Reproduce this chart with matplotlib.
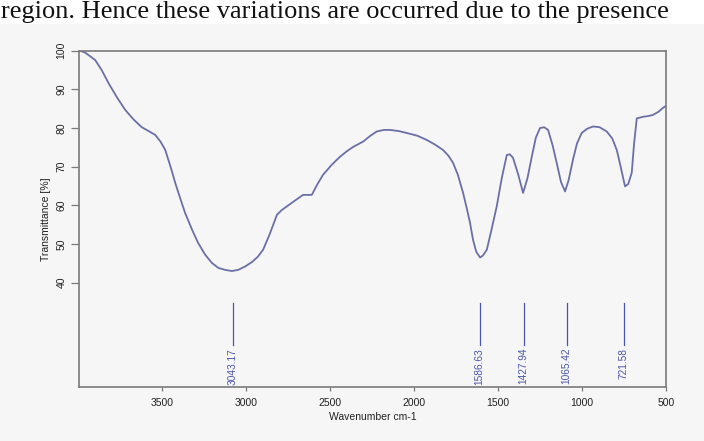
import matplotlib
matplotlib.use("Agg")
import matplotlib.pyplot as plt
from matplotlib.patches import Rectangle

# FTIR spectrum
wavenumber = [3990, 3958, 3899, 3860, 3819, 3770, 3720, 3670, 3621, 3580,
              3541, 3510, 3482, 3450, 3422, 3390, 3363, 3320, 3286, 3245,
              3204, 3165, 3125, 3085, 3047, 3005, 2966, 2930, 2899, 2860,
              2817, 2790, 2758, 2710, 2661, 2609, 2575, 2542, 2490, 2440,
              2400, 2363, 2303, 2260, 2222, 2180, 2143, 2090, 2043, 1980,
              1924, 1875, 1827, 1795, 1768, 1740, 1708, 1685, 1667, 1649,
              1630, 1607, 1590, 1567, 1540, 1508, 1478, 1448, 1430, 1411,
              1380, 1351, 1325, 1299, 1275, 1250, 1225, 1202, 1175, 1151,
              1125, 1101, 1080, 1054, 1030, 1002, 970, 934, 895, 853,
              820, 793, 770, 744, 725, 704, 690, 674, 655, 637,
              605, 577, 545, 518, 505]
transmittance = [100, 99.5, 97.6, 95.0, 91.6, 88.0, 84.7, 82.2, 80.2, 79.2,
                 78.2, 76.5, 74.4, 70.0, 65.8, 61.5, 58.0, 53.5, 50.3, 47.3,
                 45.1, 43.8, 43.3, 43.0, 43.3, 44.2, 45.3, 46.7, 48.5, 52.5,
                 57.5, 58.7, 59.7, 61.2, 62.7, 62.7, 65.5, 67.9, 70.5, 72.6,
                 74.0, 75.1, 76.5, 78.0, 79.1, 79.5, 79.5, 79.2, 78.7, 78.0,
                 76.9, 75.7, 74.3, 72.8, 71.0, 68.0, 63.2, 59.0, 55.5, 51.1,
                 48.0, 46.5, 47.0, 48.5, 53.5, 59.7, 67.0, 73.0, 73.2, 72.3,
                 68.0, 63.2, 67.0, 72.6, 77.5, 80.0, 80.2, 79.5, 75.5, 71.0,
                 66.0, 63.6, 66.5, 71.8, 76.0, 78.7, 79.8, 80.4, 80.2, 79.1,
                 77.3, 74.3, 70.0, 64.9, 65.5, 68.4, 76.0, 82.5, 82.7, 82.9,
                 83.1, 83.4, 84.2, 85.2, 85.6]

peak_pos = [3080, 1610, 1348, 1092, 752]
peak_labels = ["3043.17", "1586.63", "1427.94", "1065.42", "721.58"]

x_ticks = [3500, 3000, 2500, 2000, 1500, 1000, 500]
y_ticks = [40, 50, 60, 70, 80, 90, 100]

caption = "region. Hence these variations are occurred due to the presence"

line_col = "#6a6fa6"
label_col = "#4b56aa"
frame_col = "#7a7a7a"

plt.rcParams['font.family'] = ['Liberation Sans', 'DejaVu Sans']

fig = plt.figure(figsize=(7.04, 4.41), dpi=100, facecolor="white")
# grey page area under the caption strip
fig.patches.append(Rectangle((0, 0), 1, 1 - 24 / 441, transform=fig.transFigure,
                             facecolor="#f6f6f6", edgecolor="none", zorder=-1))
fig.text(1 / 704, 1 - 18 / 441, caption, family="Liberation Serif",
         fontsize=19, color="#111111", ha="left", va="baseline")

ax = fig.add_axes([79 / 704, 1 - 387 / 441, 587 / 704, (387 - 50.7) / 441])
ax.set_facecolor("#f6f6f6")

ax.plot(wavenumber, transmittance, color=line_col, linewidth=1.3)

for pos, lab in zip(peak_pos, peak_labels):
    ax.plot([pos, pos], [34.7, 23.9], color=label_col, linewidth=0.9)
    ax.text(pos, 23.1, lab, rotation=90, ha="center", va="top",
            fontsize=7.3, color=label_col)

ax.set_xlim(3995, 500)
ax.set_ylim(13, 100)
ax.set_xticks(x_ticks)
ax.set_yticks(y_ticks)
ax.set_xticklabels([str(t) for t in x_ticks])
ax.set_yticklabels([str(t) for t in y_ticks], rotation=90, va="center")

for spine in ax.spines.values():
    spine.set_color(frame_col)
    spine.set_linewidth(1.2)

ax.tick_params(axis="x", direction="out", length=3, width=0.9, color=frame_col,
               labelsize=7.5, labelcolor="#222222", pad=5)
ax.tick_params(axis="y", direction="out", length=6, width=0.9, color=frame_col,
               labelsize=7.5, labelcolor="#222222", pad=3)

ax.set_xlabel("Wavenumber cm-1", fontsize=7.5, color="#222222", labelpad=3)
ax.set_ylabel("Transmittance [%]", fontsize=7.5, color="#222222", labelpad=4)

fig.savefig("out.png", dpi=100, facecolor=fig.get_facecolor())
